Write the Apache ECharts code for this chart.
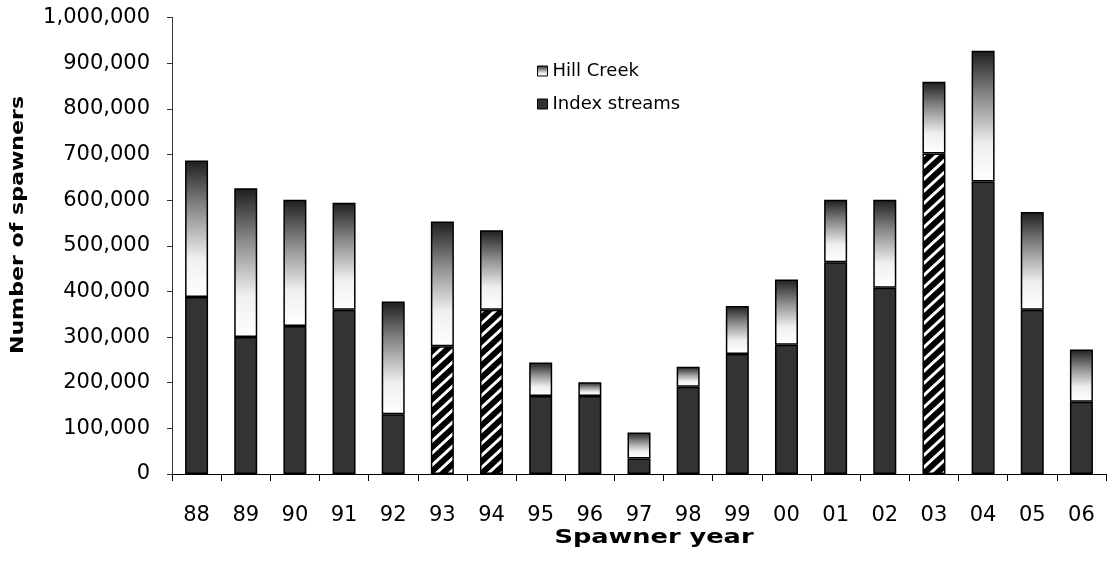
<!DOCTYPE html>
<html>
<head>
<meta charset="utf-8">
<title>Number of spawners by spawner year</title>
<script src="https://cdn.jsdelivr.net/npm/echarts@6/dist/echarts.min.js"></script>
<style>
  html, body { margin: 0; padding: 0; background: #fff; }
  #chart { width: 1108px; height: 568px; }
</style>
</head>
<body>
<div id="chart"></div>
<script>
// Spawner years (two-digit labels)
const years = ['88','89','90','91','92','93','94','95','96','97','98','99','00','01','02','03','04','05','06'];

// Spawners counted in the index streams
const indexStreams = [388000, 300000, 324000, 360000, 131000, 280000, 360000, 171000, 171000, 34000,
                      191000, 263000, 283000, 464000, 408000, 702000, 641000, 360000, 158000];

// Spawners counted in Hill Creek (stacked on top of the index streams)
const hillCreek = [299000, 326000, 277000, 234000, 247000, 273000, 174000, 73000, 30000, 57000,
                   44000, 105000, 143000, 137000, 193000, 157000, 286000, 214000, 115000];

// Years whose index-stream count is drawn with a hatched fill
const hatchedYears = ['93', '94', '03'];

// Value axis ticks
const yMin = 0, yMax = 1000000, yStep = 100000;

// Black tile with white diagonal stripes, used as a repeating fill
function makeHatch() {
  const w = 13, h = 12;
  const c = document.createElement('canvas');
  c.width = w; c.height = h;
  const g = c.getContext('2d');
  g.fillStyle = '#000';
  g.fillRect(0, 0, w, h);
  g.strokeStyle = '#fff';
  g.lineWidth = 3;
  g.lineCap = 'square';
  for (let k = -1; k <= 1; k++) {
    g.beginPath();
    g.moveTo(k * w, h);
    g.lineTo(k * w + w, 0);
    g.stroke();
  }
  return c;
}
const hatch = { image: makeHatch(), repeat: 'repeat' };

const hillGradient = {
  type: 'linear', x: 0, y: 0, x2: 0, y2: 1,
  colorStops: [
    { offset: 0, color: '#1e1e1e' },
    { offset: 0.35, color: '#8a8a8a' },
    { offset: 0.72, color: '#efefef' },
    { offset: 1, color: '#ffffff' }
  ]
};

const FONT = '"DejaVu Sans", "Liberation Sans", Arial, sans-serif';

const indexData = indexStreams.map((v, i) =>
  hatchedYears.includes(years[i]) ? { value: v, itemStyle: { color: hatch } } : v);

const chart = echarts.init(document.getElementById('chart'), null, { renderer: 'canvas' });

chart.setOption({
  animation: false,
  backgroundColor: '#ffffff',
  grid: { left: 172, right: 2, top: 17.5, bottom: 94, containLabel: false },
  legend: {
    orient: 'vertical',
    left: 532,
    top: 56,
    itemWidth: 10,
    itemHeight: 10,
    itemGap: 13,
    icon: 'rect',
    data: ['Hill Creek', 'Index streams'],
    itemStyle: { borderColor: '#000', borderWidth: 1 },
    textStyle: { fontFamily: FONT, fontSize: 18, color: '#000', lineHeight: 20 }
  },
  xAxis: {
    type: 'category',
    data: years,
    boundaryGap: true,
    axisLine: { lineStyle: { color: '#000', width: 1 } },
    axisTick: { show: true, alignWithLabel: false, length: 7, lineStyle: { color: '#000' } },
    axisLabel: {
      fontFamily: FONT, fontSize: 21, color: '#000', margin: 31, interval: 0
    },
    splitLine: { show: false }
  },
  yAxis: {
    type: 'value',
    min: yMin,
    max: yMax,
    interval: yStep,
    axisLine: { show: true, lineStyle: { color: '#333', width: 1 } },
    axisTick: { show: true, length: 5, lineStyle: { color: '#333' } },
    axisLabel: {
      fontFamily: FONT, fontSize: 21, color: '#000', margin: 22,
      formatter: v => v.toLocaleString('en-US')
    },
    splitLine: { show: false }
  },
  series: [
    {
      name: 'Index streams',
      type: 'bar',
      stack: 'spawners',
      barWidth: 23,
      data: indexData,
      itemStyle: { color: '#333333', borderColor: '#000', borderWidth: 1.5 }
    },
    {
      name: 'Hill Creek',
      type: 'bar',
      stack: 'spawners',
      barWidth: 23,
      data: hillCreek,
      itemStyle: { color: hillGradient, borderColor: '#000', borderWidth: 1.5 }
    }
  ],
  graphic: [
    {
      type: 'text',
      x: 654, y: 538,
      scaleX: 1.35,
      style: {
        text: 'Spawner year',
        font: 'bold 19px ' + FONT,
        fill: '#000',
        align: 'center', verticalAlign: 'middle',
        textAlign: 'center', textVerticalAlign: 'middle'
      }
    },
    {
      type: 'text',
      x: 19, y: 225,
      rotation: Math.PI / 2,
      scaleX: 1.3,
      style: {
        text: 'Number of spawners',
        font: 'bold 17px ' + FONT,
        fill: '#000',
        align: 'center', verticalAlign: 'middle',
        textAlign: 'center', textVerticalAlign: 'middle'
      }
    }
  ]
});
</script>
</body>
</html>
